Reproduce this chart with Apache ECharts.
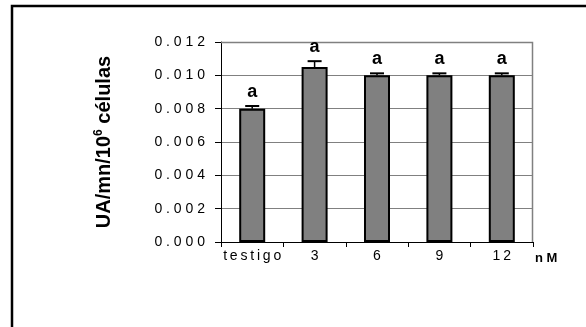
<!DOCTYPE html>
<html>
<head>
<meta charset="utf-8">
<script src="https://cdn.jsdelivr.net/npm/echarts@6/dist/echarts.min.js"></script>
<style>
  html, body { margin: 0; padding: 0; background: #fff; }
  #chart { width: 586px; height: 327px; }
</style>
</head>
<body>
<div id="chart"></div>
<script>
// Enzyme activity per treatment
var categories = ['testigo', '3', '6', '9', '12'];
var activity = [0.0080, 0.0105, 0.0100, 0.0100, 0.0100];
var errors = [0.00016, 0.00035, 0.00012, 0.00012, 0.00012];
var letters = ['a', 'a', 'a', 'a', 'a'];

var FONT = 'Arial, "Liberation Sans", sans-serif';
var GRID = { left: 221, right: 53, top: 42, bottom: 85 };
var W = 586, H = 327;
var plotRight = W - GRID.right;
var plotBottom = H - GRID.bottom;

// widen glyph spacing the way the axis labels are set
function spaced(s, sep) { return String(s).split('').join(sep); }

var chart = echarts.init(document.getElementById('chart'));

var errorData = categories.map(function (c, i) {
  return [i, activity[i], errors[i], letters[i]];
});

chart.setOption({
  animation: false,
  graphic: [{
    type: 'rect',
    shape: { x: 12, y: 6, width: 600, height: 340 },
    style: { fill: 'none', stroke: '#000', lineWidth: 2.5 },
    silent: true
  }, {
    type: 'polyline',
    shape: { points: [[GRID.left, GRID.top + 0.5], [plotRight - 0.5, GRID.top + 0.5], [plotRight - 0.5, plotBottom]] },
    style: { stroke: '#808080', lineWidth: 1.5, fill: 'none' },
    z: 1
  }, {
    type: 'text',
    left: 535, top: 252,
    style: { text: 'n M', font: 'bold 13px ' + FONT, fill: '#000' }
  }],
  grid: GRID,
  xAxis: {
    type: 'category',
    data: categories,
    axisLine: { lineStyle: { color: '#000', width: 1 } },
    axisTick: { show: true, alignWithLabel: false, length: 5, lineStyle: { color: '#000' } },
    axisLabel: {
      interval: 0,
      color: '#000', fontSize: 14, margin: 7, fontFamily: FONT,
      formatter: function (v) { return spaced(v, '\u2009'); }
    },
    splitLine: { show: false }
  },
  yAxis: {
    type: 'value',
    min: 0, max: 0.012, interval: 0.002,
    name: '{m|UA/mn/10}{s|6}{m| células}',
    nameLocation: 'middle',
    nameGap: 106,
    nameRotate: 90,
    nameTextStyle: {
      rich: {
        m: { fontSize: 20, fontWeight: 'bold', color: '#000', fontFamily: FONT },
        s: { fontSize: 12, fontWeight: 'bold', color: '#000', verticalAlign: 'top', padding: [0, 0, 10, 0], fontFamily: FONT }
      }
    },
    axisLine: { show: true, lineStyle: { color: '#000' } },
    axisTick: { show: true, length: 6, lineStyle: { color: '#000' } },
    axisLabel: {
      color: '#000', fontSize: 14, margin: 16, fontFamily: FONT,
      formatter: function (v) { return spaced(v.toFixed(3), ' '); }
    },
    splitLine: { show: true, lineStyle: { color: '#808080', width: 1 } }
  },
  series: [{
    type: 'bar',
    data: activity,
    barWidth: 26,
    itemStyle: { color: '#808080', borderColor: '#000', borderWidth: 2 },
    z: 3
  }, {
    type: 'custom',
    data: errorData,
    z: 4,
    renderItem: function (params, api) {
      var x = api.value(0);
      var v = api.value(1);
      var e = api.value(2);
      var base = api.coord([x, v]);
      var top = api.coord([x, v + e]);
      var hw = 7;
      return {
        type: 'group',
        children: [{
          type: 'line',
          shape: { x1: base[0], y1: base[1], x2: top[0], y2: top[1] },
          style: { stroke: '#000', lineWidth: 1.5 }
        }, {
          type: 'line',
          shape: { x1: top[0] - hw, y1: top[1], x2: top[0] + hw, y2: top[1] },
          style: { stroke: '#000', lineWidth: 2 }
        }, {
          type: 'text',
          style: {
            x: top[0], y: top[1] - 14,
            text: api.value(3),
            textAlign: 'center', textVerticalAlign: 'middle',
            font: 'bold 18px ' + FONT,
            fill: '#000'
          }
        }]
      };
    }
  }]
});
</script>
</body>
</html>
